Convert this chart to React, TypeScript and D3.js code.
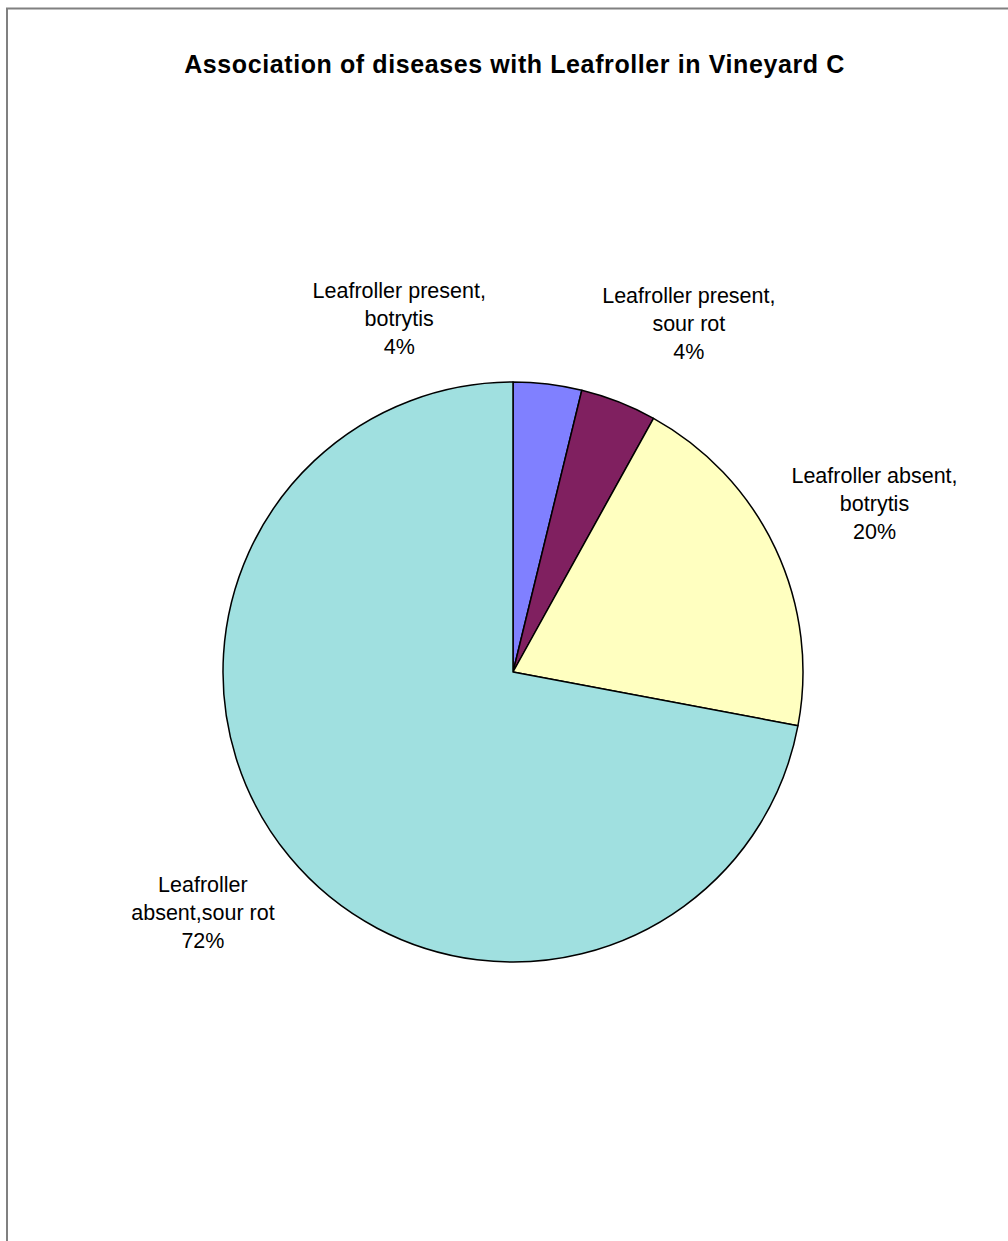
import React from "react";
import * as d3 from "d3";

const categories = [
  "Leafroller present, botrytis",
  "Leafroller present, sour rot",
  "Leafroller absent, botrytis",
  "Leafroller absent,sour rot",
];
const labelLines = [
  ["Leafroller present,", "botrytis"],
  ["Leafroller present,", "sour rot"],
  ["Leafroller absent,", "botrytis"],
  ["Leafroller", "absent,sour rot"],
];
const counts = [9, 10, 47, 170];
const colors = ["#8080FF", "#802060", "#FFFFC0", "#A0E0E0"];

const W = 1008;
const H = 1241;
const cx = 513;
const cy = 672;
const R = 290;
const labelR = 395;
// Excel moves labels to avoid overlap; per-label nudges (dx, dy)
const nudges: [number, number][] = [
  [-161, 39],
  [32, 20],
  [4, 0],
  [-6, -11],
];

export default function App() {
  const total = d3.sum(counts);
  const pie = d3
    .pie<number>()
    .sort(null)
    .value((d) => d);
  const arcs = pie(counts);
  const arc = d3.arc<d3.PieArcDatum<number>>().innerRadius(0).outerRadius(R);
  const labelArc = d3
    .arc<d3.PieArcDatum<number>>()
    .innerRadius(labelR)
    .outerRadius(labelR);
  const font = "'Liberation Sans', Arial, sans-serif";
  const lh = 28;

  return (
    <div style={{ position: "absolute", left: 0, top: 0 }}>
      <svg width={W} height={H} style={{ display: "block" }}>
        <rect x={0} y={0} width={W} height={H} fill="#fff" />
        <rect
          x={7}
          y={8.5}
          width={W + 20}
          height={H + 20}
          fill="#fff"
          stroke="#808080"
          strokeWidth={2}
        />
        <text
          x={514.5}
          y={64}
          textAnchor="middle"
          dominantBaseline="central"
          fontFamily={font}
          fontWeight="bold"
          fontSize={25}
          letterSpacing={0.6}
          fill="#000"
        >
          Association of diseases with Leafroller in Vineyard C
        </text>
        <g transform={`translate(${cx},${cy})`}>
          {arcs.map((a, i) => (
            <path
              key={categories[i]}
              d={arc(a) || ""}
              fill={colors[i]}
              stroke="#000"
              strokeWidth={1.5}
              strokeLinejoin="round"
            />
          ))}
          {arcs.map((a, i) => {
            const [lx, ly] = labelArc.centroid(a);
            const x = lx + nudges[i][0];
            const y = ly + nudges[i][1];
            const lines = [
              ...labelLines[i],
              `${Math.round((counts[i] / total) * 100)}%`,
            ];
            return (
              <text
                key={"l" + i}
                textAnchor="middle"
                fontFamily={font}
                fontSize={21.5}
                fill="#000"
              >
                {lines.map((t, j) => (
                  <tspan
                    key={j}
                    x={x}
                    y={y + (j - 1) * lh}
                    dominantBaseline="central"
                  >
                    {t}
                  </tspan>
                ))}
              </text>
            );
          })}
        </g>
      </svg>
    </div>
  );
}
